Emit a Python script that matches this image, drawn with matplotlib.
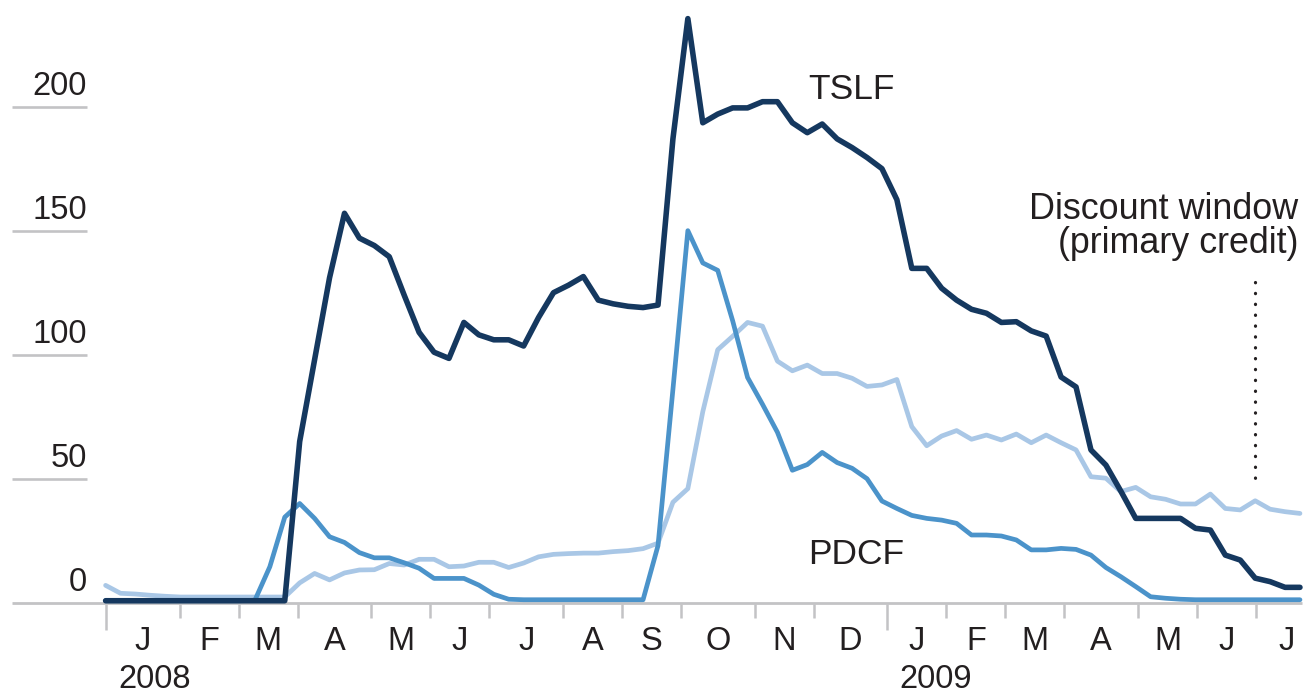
import numpy as np
import matplotlib.pyplot as plt

plt.rcParams['font.family'] = ['Liberation Sans', 'DejaVu Sans']

# weekly levels, billions of dollars (Jan 2008 - Jul 2009)
tslf = [0.8] * 13 + [
    65, 98, 131, 157, 147, 144, 139.5, 124, 109, 101,
    98.5, 113, 108, 106, 106, 103.5, 115, 125, 128, 131.5,
    122, 120.5, 119.5, 119, 120, 187, 235.5, 193.5, 197, 199.5,
    199.5, 202, 202, 193.5, 189.5, 193, 187, 183.5, 179.5, 175,
    162.5, 134.8, 134.8, 126.8, 122, 118.3, 116.7, 113, 113.3, 109.6,
    107.5, 91, 87, 61.6, 55.5, 45, 34, 34, 34, 34,
    30, 29.3, 19.2, 17.2, 9.9, 8.5, 6.2, 6.2]

pdcf = [0.8] * 10 + [
    1, 14.5, 34.5, 40, 34, 26.6, 24.3, 20.2, 18.1, 18.1,
    16.1, 13.9, 9.8, 9.8, 9.8, 7.1, 3.4, 1.4] + [1.2] * 9 + [
    23, 86, 150, 137, 134, 113.7, 90.8, 80, 68.7, 53.4,
    55.7, 60.6, 56.5, 54.2, 50, 41, 38, 35.2, 34, 33.3,
    32, 27.3, 27.3, 26.9, 25.3, 21.3, 21.3, 21.9, 21.5, 19.2,
    14.2, 10.5, 6.5, 2.4, 1.8, 1.4] + [1.2] * 8

primary = [7, 3.8, 3.5, 3, 2.6] + [2.3] * 8 + [
    8, 11.8, 9.2, 12, 13.2, 13.3, 15.8, 15.2, 17.5, 17.5,
    14.5, 14.8, 16.3, 16.3, 14.2, 16, 18.5, 19.5, 19.8, 20,
    20, 20.6, 21, 21.8, 24, 40.5, 46, 77, 102, 107.4,
    113, 111.5, 97.4, 93.5, 95.8, 92.4, 92.4, 90.5, 87.2, 87.8,
    90, 71, 63.3, 67.2, 69.4, 65.9, 67.6, 65.6, 68, 64.5,
    67.6, 64.5, 61.6, 50.8, 50.2, 44.8, 46.5, 42.7, 41.7, 39.8,
    39.8, 43.8, 38, 37.4, 41.1, 37.7, 36.7, 36]

weeks = np.arange(len(tslf))

month_labels = ['J', 'F', 'M', 'A', 'M', 'J', 'J', 'A', 'S', 'O', 'N', 'D',
                'J', 'F', 'M', 'A', 'M', 'J', 'J']
month_start_wk = [0, 5, 9, 13, 18, 22, 26, 31, 35, 39, 44, 48,
                  53, 57, 61, 65, 70, 74, 78]
year_labels = ['2008', '2009']
year_tick_idx = [0, 12]
y_ticks = [0, 50, 100, 150, 200]

txt = '#231f20'
grey = '#c3c3c5'
c_dark = '#15385f'
c_mid = '#4b93ca'
c_light = '#a9c7e6'

fig = plt.figure(figsize=(13.04, 6.93), dpi=100)
ax = fig.add_axes([0, 0, 1, 1])
ax.set_xlim(-7.073, 80.27)
ax.set_ylim(-36.4, 243.0)
ax.axis('off')

# y gridline stubs + labels
for v in y_ticks:
    if v == 0:
        ax.plot([-6.27, 80.13], [0, 0], color=grey, lw=2.0, solid_capstyle='butt', zorder=1)
    else:
        ax.plot([-6.27, -1.246], [v, v], color=grey, lw=1.9, solid_capstyle='butt', zorder=1)
    ax.text(-1.246, v + 4.7, str(v), ha='right', va='baseline', fontsize=23.5, color=txt)

# month ticks (ticks sit on a slightly different weekly grid than the data)
scale = 14.744 / 14.93
tick_x = [w * scale + 0.027 for w in month_start_wk]
for i, t in enumerate(tick_x):
    low = -11.1 if i in year_tick_idx else -6.0
    ax.plot([t, t], [-0.6, low], color=grey, lw=1.8, solid_capstyle='butt', zorder=1)

label_x = [(tick_x[i] + tick_x[i + 1]) / 2 for i in range(len(tick_x) - 1)]
label_x.append(tick_x[-1] + 2.03)
for lab, x in zip(month_labels, label_x):
    ax.text(x, -19.1, lab, ha='center', va='baseline', fontsize=23.5, color=txt)
for lab, i in zip(year_labels, year_tick_idx):
    ax.text(tick_x[i] + 0.8, -34.4, lab, ha='left', va='baseline', fontsize=23.5, color=txt)

# series
kw = dict(solid_joinstyle='round', solid_capstyle='round')
ax.plot(weeks, primary, color=c_light, lw=3.4, zorder=3, **kw)
ax.plot(weeks, pdcf, color=c_mid, lw=3.4, zorder=4, **kw)
ax.plot(weeks, tslf, color=c_dark, lw=4.0, zorder=5, **kw)

# labels
ax.text(47.05, 203.1, 'TSLF', ha='left', va='baseline', fontsize=25.5, color=txt)
ax.text(47.05, 15.6, 'PDCF', ha='left', va='baseline', fontsize=25.5, color=txt)
ax.text(79.87, 154.7, 'Discount window', ha='right', va='baseline', fontsize=25.8, color=txt)
ax.text(79.87, 141.0, '(primary credit)', ha='right', va='baseline', fontsize=25.8, color=txt)
ax.plot([77, 77], [129.3, 48.3], color=txt, lw=2.3, linestyle=(0, (0.1, 3.3)),
        dash_capstyle='round', zorder=6)

plt.savefig('out.png', dpi=100)
plt.close()
